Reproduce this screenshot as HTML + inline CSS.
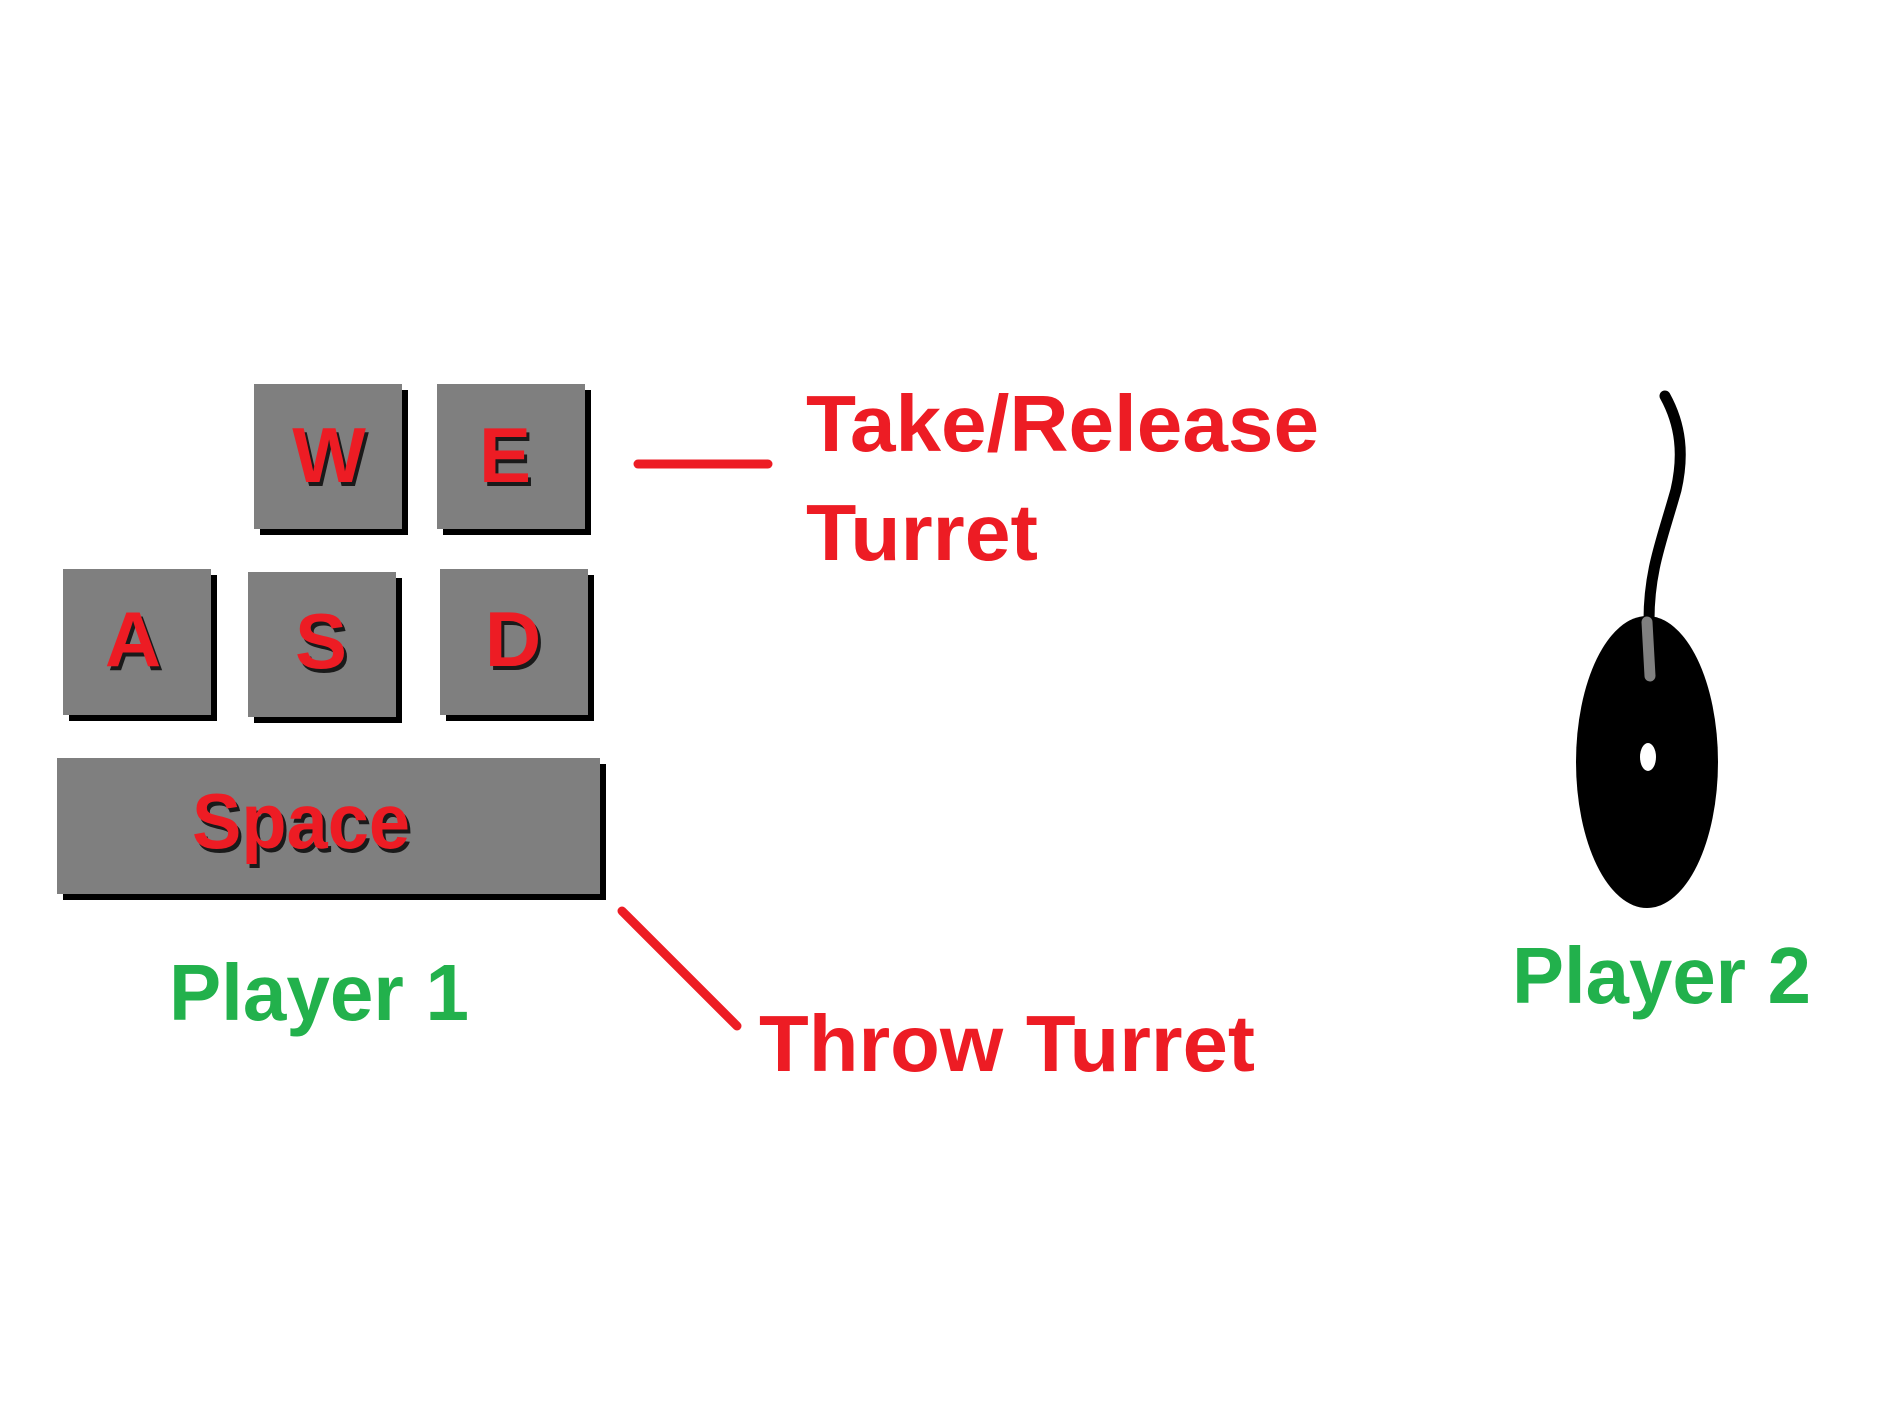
<!DOCTYPE html>
<html><head><meta charset="utf-8"><style>
html,body{margin:0;padding:0;background:#fff}
svg{display:block}
text{font-family:"Liberation Sans",sans-serif;font-weight:bold}
</style></head><body>
<svg width="1890" height="1417" viewBox="0 0 1890 1417" xmlns="http://www.w3.org/2000/svg">
<rect width="1890" height="1417" fill="#fff"/>
<g>
<rect x="260" y="390" width="148" height="145" fill="#000"/>
<rect x="254" y="384" width="148" height="145" fill="#7f7f7f"/>
<rect x="443" y="390" width="148" height="145" fill="#000"/>
<rect x="437" y="384" width="148" height="145" fill="#7f7f7f"/>
<rect x="69" y="575" width="148" height="146" fill="#000"/>
<rect x="63" y="569" width="148" height="146" fill="#7f7f7f"/>
<rect x="254" y="578" width="148" height="145" fill="#000"/>
<rect x="248" y="572" width="148" height="145" fill="#7f7f7f"/>
<rect x="446" y="575" width="148" height="146" fill="#000"/>
<rect x="440" y="569" width="148" height="146" fill="#7f7f7f"/>
<rect x="63" y="764" width="543" height="136" fill="#000"/>
<rect x="57" y="758" width="543" height="136" fill="#7f7f7f"/>
</g>
<g font-size="78" text-anchor="middle">
<g fill="#1a1a1a" transform="translate(3,4)">
<text x="329" y="482">W</text><text x="505" y="482">E</text>
<text x="133" y="666">A</text><text x="321" y="668">S</text><text x="513" y="666">D</text>
<text x="301" y="848" textLength="218" lengthAdjust="spacingAndGlyphs">Space</text>
</g>
<g fill="#ed1c24">
<text x="329" y="482">W</text><text x="505" y="482">E</text>
<text x="133" y="666">A</text><text x="321" y="668">S</text><text x="513" y="666">D</text>
<text x="301" y="848" textLength="218" lengthAdjust="spacingAndGlyphs">Space</text>
</g>
</g>
<line x1="638" y1="464" x2="768" y2="464" stroke="#ed1c24" stroke-width="9" stroke-linecap="round"/>
<line x1="622" y1="911" x2="737" y2="1026" stroke="#ed1c24" stroke-width="9" stroke-linecap="round"/>
<g fill="#ed1c24" font-size="80">
<text x="806" y="451" textLength="513" lengthAdjust="spacingAndGlyphs">Take/Release</text>
<text x="806" y="560" textLength="232" lengthAdjust="spacingAndGlyphs">Turret</text>
<text x="759" y="1071" textLength="496" lengthAdjust="spacingAndGlyphs">Throw Turret</text>
</g>
<g fill="#22b14c" font-size="80">
<text x="169" y="1020" textLength="300" lengthAdjust="spacingAndGlyphs">Player 1</text>
<text x="1512" y="1003" textLength="299" lengthAdjust="spacingAndGlyphs">Player 2</text>
</g>
<path d="M1665,396 C1681,425 1684,455 1676,490 C1662,540 1649,570 1649,620" fill="none" stroke="#000" stroke-width="11" stroke-linecap="round"/>
<ellipse cx="1647" cy="762" rx="71" ry="146" fill="#000"/>
<line x1="1647" y1="622" x2="1650" y2="676" stroke="#808080" stroke-width="11" stroke-linecap="round"/>
<ellipse cx="1648" cy="757" rx="8" ry="14" fill="#fff"/>
</svg>
</body></html>
